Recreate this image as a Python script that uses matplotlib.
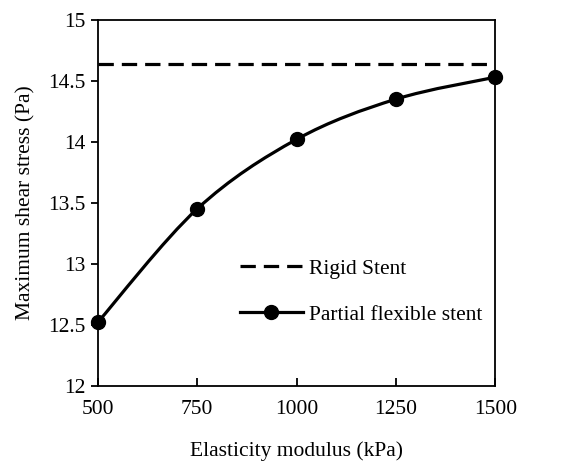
import numpy as np
import matplotlib.pyplot as plt
from matplotlib.path import Path
from matplotlib.patches import PathPatch
from matplotlib.lines import Line2D

plt.rcParams['font.family'] = ['Liberation Serif', 'DejaVu Serif']

modulus = [500, 750, 1000, 1250, 1500]
flexible = [12.52, 13.45, 14.02, 14.35, 14.53]
rigid = 14.64

fig = plt.figure(figsize=(5.82, 4.62), dpi=100)
ax = fig.add_axes([0.168, 0.165, 0.683, 0.792])

# Excel-style smoothed line: cubic bezier through the points
x = np.array(modulus, float)
y = np.array(flexible, float)
verts = [(x[0], y[0])]
codes = [Path.MOVETO]
n = len(x)
for i in range(n - 1):
    x0, y0 = (x[i - 1], y[i - 1]) if i > 0 else (x[i], y[i])
    x3, y3 = (x[i + 2], y[i + 2]) if i + 2 < n else (x[i + 1], y[i + 1])
    c1 = (x[i] + (x[i + 1] - x0) / 6, y[i] + (y[i + 1] - y0) / 6)
    c2 = (x[i + 1] - (x3 - x[i]) / 6, y[i + 1] - (y3 - y[i]) / 6)
    verts += [c1, c2, (x[i + 1], y[i + 1])]
    codes += [Path.CURVE4] * 3
ax.add_patch(PathPatch(Path(verts, codes), facecolor='none', edgecolor='black',
                       lw=2.3, clip_on=False, zorder=3))
ax.plot(modulus, flexible, 'o', color='black', ms=10, clip_on=False, zorder=4)
dash = (0, (4.8, 2.5))
ax.axhline(rigid, color='black', lw=2.3, ls=dash, zorder=2)

ax.set_xlim(500, 1500)
ax.set_ylim(12, 15)
ax.set_xticks([500, 750, 1000, 1250, 1500])
ax.set_yticks([12, 12.5, 13, 13.5, 14, 14.5, 15])
ax.set_yticklabels(['12', '12.5', '13', '13.5', '14', '14.5', '15'])
ax.tick_params(axis='x', direction='in', length=6, width=1.3, labelsize=15.5, pad=10)
ax.tick_params(axis='y', direction='out', length=5, width=1.3, labelsize=15.5, pad=4)
for s in ax.spines.values():
    s.set_linewidth(1.3)

ax.set_xlabel('Elasticity modulus (kPa)', fontsize=15.5, labelpad=16)
ax.set_ylabel('Maximum shear stress (Pa)', fontsize=15.5, labelpad=9)

handles = [Line2D([], [], color='black', lw=2.3, ls=dash),
           Line2D([], [], color='black', lw=2.3, marker='o', ms=10)]
ax.legend(handles, ['Rigid Stent', 'Partial flexible stent'], loc='upper left',
          bbox_to_anchor=(0.358, 0.347), borderaxespad=0, borderpad=0,
          frameon=False, fontsize=15.5,
          handlelength=2.9, labelspacing=1.2, handletextpad=0.28)

fig.savefig('out.png', dpi=100)
